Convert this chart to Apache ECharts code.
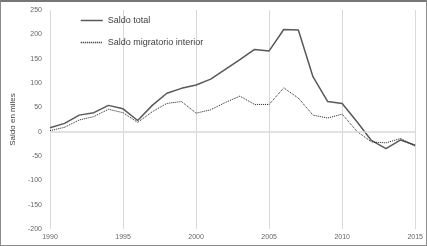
<!DOCTYPE html>
<html>
<head>
<meta charset="utf-8">
<script src="https://cdn.jsdelivr.net/npm/echarts@6/dist/echarts.min.js"></script>
<style>
  html, body { margin: 0; padding: 0; background: #fff; }
  #main { width: 427px; height: 246px; box-sizing: border-box; border: 1px solid #8c8c8c; border-top: 2px solid #777; }
</style>
</head>
<body>
<div id="main"></div>
<script>
var years = [1990,1991,1992,1993,1994,1995,1996,1997,1998,1999,2000,2001,2002,2003,2004,2005,2006,2007,2008,2009,2010,2011,2012,2013,2014,2015];
var saldoTotal = [8,17,34,39,54,47,23,54,79,89,96,108,128,148,169,166,210,209,113,62,58,21,-18,-35,-17,-28];
var saldoInterior = [2,9,24,31,46,39,19,41,58,62,38,45,60,73,56,56,90,69,34,28,36,1,-21,-23,-14,-30];

function pairs(vals) {
  var out = [];
  for (var i = 0; i < years.length; i++) out.push([years[i], vals[i]]);
  return out;
}

var chart = echarts.init(document.getElementById('main'));
chart.setOption({
  animation: false,
  textStyle: { fontFamily: 'Liberation Sans' },
  grid: { left: 45, right: 10, top: 8, bottom: 16 },
  legend: {
    orient: 'vertical',
    left: 74, top: 9,
    itemWidth: 22, itemHeight: 8, itemGap: 13,
    itemStyle: { opacity: 0 },
    lineStyle: { width: 1.5 },
    textStyle: { fontSize: 9, color: '#404040' },
    data: ['Saldo total', 'Saldo migratorio interior']
  },
  xAxis: {
    type: 'value', min: 1990, max: 2015, interval: 5,
    axisLine: { show: false, onZero: false },
    axisTick: { show: false },
    axisLabel: { fontSize: 7, color: '#666', margin: 5, formatter: function (v) { return String(v); } },
    splitLine: { show: true, lineStyle: { color: '#d9d9d9', width: 1 } }
  },
  yAxis: {
    type: 'value', min: -200, max: 250, interval: 50,
    name: 'Saldo en miles', nameLocation: 'middle', nameGap: 33,
    nameTextStyle: { fontSize: 8, color: '#404040' },
    axisLine: { show: false },
    axisTick: { show: false },
    axisLabel: { fontSize: 7, color: '#666', margin: 8 },
    splitLine: { show: false }
  },
  series: [
    {
      name: 'Saldo total', type: 'line', data: pairs(saldoTotal),
      symbol: 'none', lineStyle: { color: '#595959', width: 1.5 },
      itemStyle: { color: '#595959' },
      markLine: {
        silent: true, symbol: 'none', label: { show: false },
        lineStyle: { color: '#d9d9d9', type: 'solid', width: 1.5 },
        data: [{ yAxis: 0 }]
      }
    },
    {
      name: 'Saldo migratorio interior', type: 'line', data: pairs(saldoInterior),
      symbol: 'none', lineStyle: { color: '#1a1a1a', width: 1, type: [1, 1] },
      itemStyle: { color: '#1a1a1a' }
    }
  ]
});
</script>
</body>
</html>
